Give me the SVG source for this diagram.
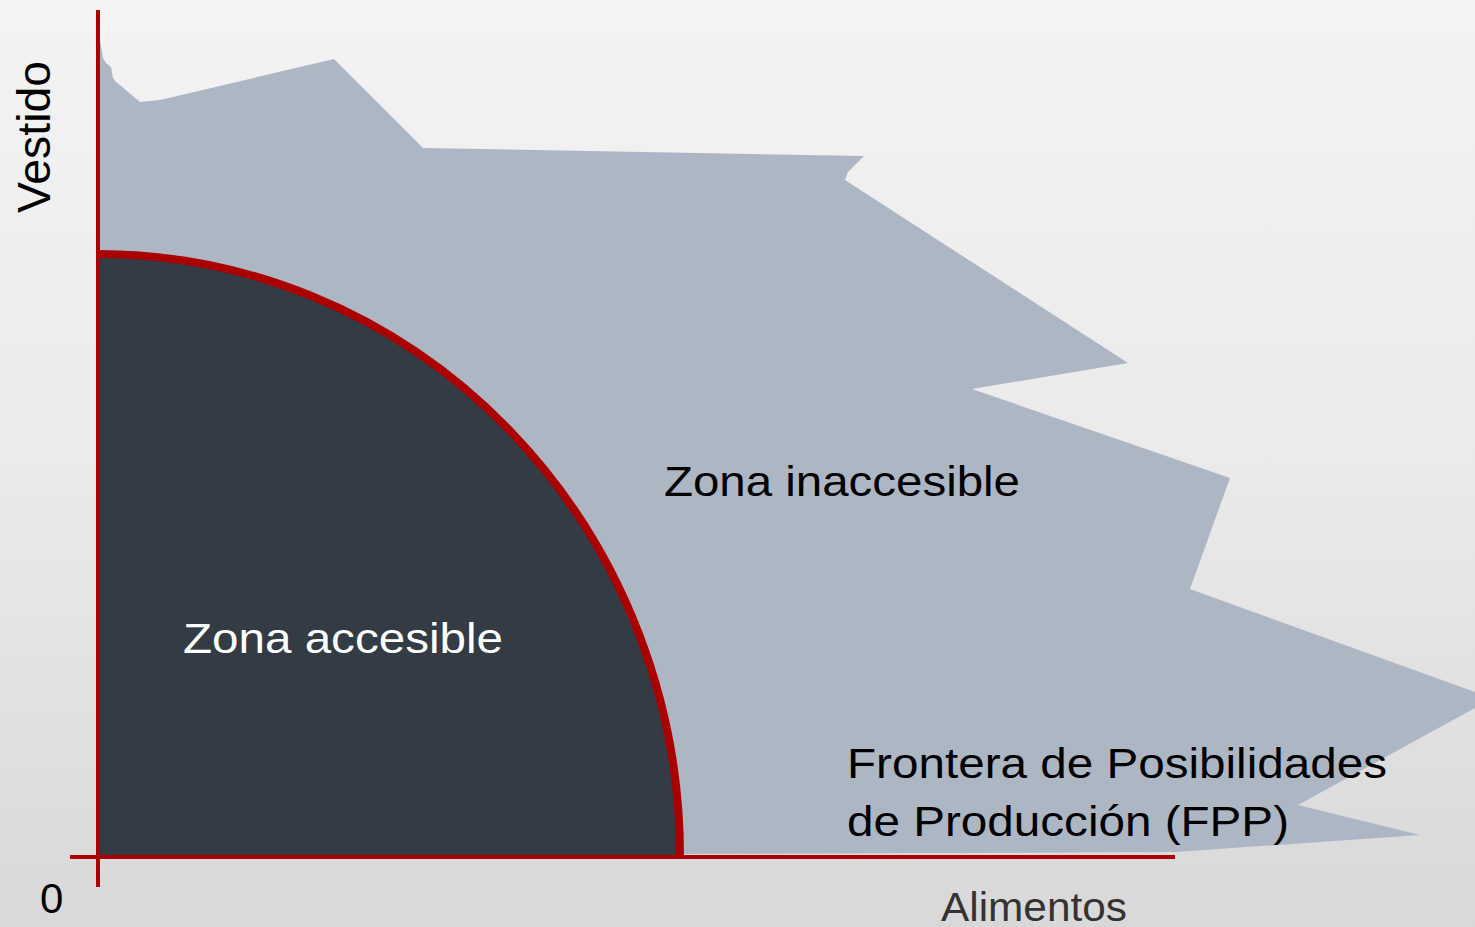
<svg xmlns="http://www.w3.org/2000/svg" width="1475" height="927" viewBox="0 0 1475 927">
<defs>
<linearGradient id="bg" x1="0" y1="0" x2="0" y2="1">
<stop offset="0" stop-color="#F3F3F3"/>
<stop offset="0.5" stop-color="#EAEAEA"/>
<stop offset="1" stop-color="#D8D8D8"/>
</linearGradient>
</defs>
<style>
.t{font-family:"Liberation Sans",Arial,sans-serif;fill:#000}
.axis{stroke:#AA0000;stroke-width:4;fill:none}
</style>
<rect x="0" y="0" width="1475" height="927" fill="url(#bg)"/>
<g id="zona-inaccesible">
<polygon fill="#ADB7C4" points="100,40 103,58 106,63 111,67 113,78 116,82 121,86 140,102 160,100 334,59 423,148 864,156 848,172 845,180 1128,363 972,389 1230,478 1190,589 1475,692 1475,708 1298,805 1420,835 1175,852 680,854 100,856"/>
<text class="t" x="664" y="496" font-size="42" textLength="356" lengthAdjust="spacingAndGlyphs">Zona inaccesible</text>
</g>
<g id="zona-accesible">
<path d="M100,254 A580,602 0 0 1 680,856 L100,856 Z" fill="#333B45"/>
<text class="t" x="183" y="653" font-size="42" textLength="320" lengthAdjust="spacingAndGlyphs" style="fill:#FFFFFF">Zona accesible</text>
</g>
<g id="connectors">
<path d="M98,254 A582,602 0 0 1 680,856" fill="none" stroke="#AA0000" stroke-width="8"/>
<line class="axis" x1="98" y1="10" x2="98" y2="887"/>
<line class="axis" x1="70" y1="857" x2="1175" y2="857"/>
</g>
<g id="fpp-label">
<text class="t" x="847" y="778" font-size="42" textLength="540" lengthAdjust="spacingAndGlyphs">Frontera de Posibilidades</text>
<text class="t" x="847" y="836" font-size="42" textLength="442" lengthAdjust="spacingAndGlyphs">de Producción (FPP)</text>
</g>
<g id="axis-labels">
<text class="t" transform="translate(50,213) rotate(-90)" x="0" y="0" font-size="46" textLength="152" lengthAdjust="spacingAndGlyphs">Vestido</text>
<text class="t" x="40" y="913" font-size="42">0</text>
<text class="t" x="941" y="921" font-size="40" textLength="186" lengthAdjust="spacingAndGlyphs" style="fill:#333333">Alimentos</text>
</g>
</svg>
